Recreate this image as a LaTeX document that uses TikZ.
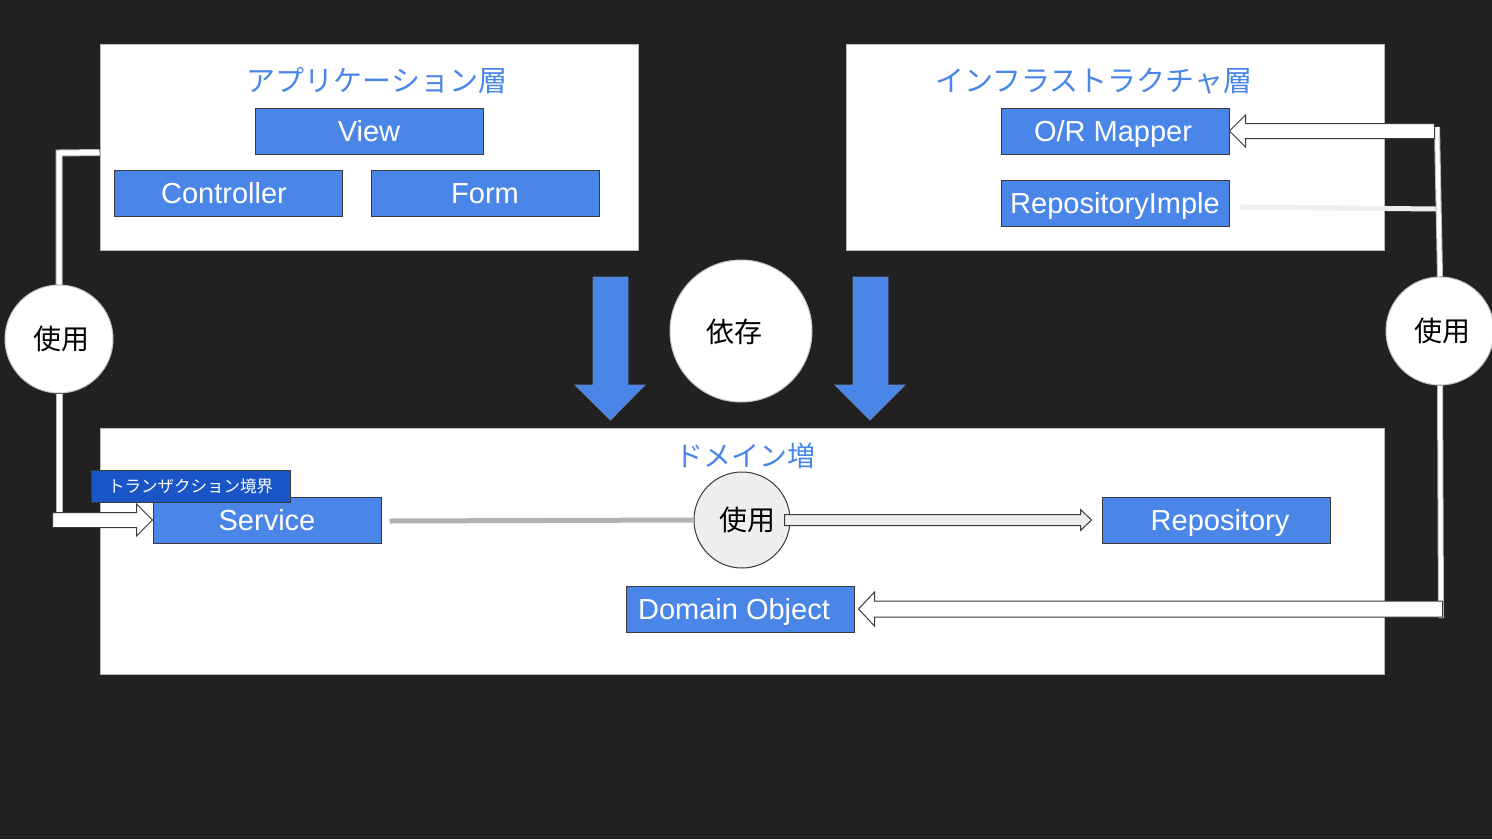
\documentclass[tikz,border=0pt]{standalone}
\usepackage{fontspec}
\setmainfont{Liberation Sans}
\newfontfamily\jp{Noto Sans CJK JP}
\usetikzlibrary{calc}
\definecolor{bg}{HTML}{212121}
\definecolor{mblue}{HTML}{4A86E8}
\definecolor{tblue}{HTML}{1A55C8}
\definecolor{edge}{HTML}{3A3A3A}
\definecolor{lgray}{HTML}{EEEEEE}
\begin{document}
\begin{tikzpicture}[x=1pt,y=-1pt,
  layer/.style={draw=gray!55, fill=white, line width=1pt, inner sep=0pt},
  bbox/.style={draw=edge, fill=mblue, line width=1pt, minimum width=228pt, minimum height=46pt, inner sep=0pt, text=white, text height=20.5pt, text depth=0pt, font=\fontsize{29}{30}\selectfont},
  ltitle/.style={text=mblue, inner sep=0pt, font=\jp\fontsize{29}{32}\selectfont},
  ucirc/.style={circle, fill=white, draw=gray!45, line width=1pt, inner sep=0pt, text=black, font=\jp\fontsize{28}{30}\selectfont},
  ctext/.style={inner sep=0pt, text=black, font=\jp\fontsize{28}{30}\selectfont},
  hollow/.style={fill=white, draw=edge, line width=1pt},
  wedge/.style={gray!55, line width=7pt},
  wline/.style={white, line width=5pt},
  darrow/.style={fill=mblue, draw=gray!40!mblue, line width=0.8pt}
]
\fill[bg] (0,0) rectangle (1492,839);
\useasboundingbox (0,0) rectangle (1492,839);

% layers
\node[layer, minimum width=538pt, minimum height=206pt] (app) at (369,147) {};
\node[layer, minimum width=538pt, minimum height=206pt] (infra) at (1115,147) {};
\node[layer, minimum width=1284pt, minimum height=246pt] (dom) at (742,551) {};

\node[ltitle] (appT) at (377,81) {アプリケーション層};
\node[ltitle] (infT) at (1094,81) {インフラストラクチャ層};
\node[ltitle, font=\jp\fontsize{28}{30}\selectfont] (domT) at (745,456) {ドメイン増};

% circles
\node[ucirc, minimum size=108pt] (useL) at (59,339) {};
\node[ctext] (useLt) at (61,339) {使用};
\node[ucirc, minimum size=142pt] (dep) at (741,331) {};
\node[ctext] (dept) at (734,332) {依存};
\node[ucirc, minimum size=108pt] (useR) at (1440,331) {};
\node[ctext] (useRt) at (1442,331) {使用};

% blue boxes
\node[bbox] (view) at (369,131) {View};
\node[bbox] (ctrl) at (228,193) {\makebox[220pt]{\hspace{-8pt}\hfill Controller\hfill}};
\node[bbox] (form) at (485,193) {Form};
\node[bbox] (orm) at (1115,131) {\makebox[220pt]{\hspace{-4pt}\hfill O/R Mapper\hfill}};
\node[bbox] (repimpl) at (1115,203) {RepositoryImple};
\node[bbox] (svc) at (267,520) {Service};
\node[bbox] (repo) at (1216,520) {\makebox[220pt]{\hfill Repository\hfill\hspace{-8pt}}};
\node[bbox] (dobj) at (740,609) {\makebox[220pt]{\hspace{-12pt}\hfill Domain Object\hfill}};

% left connector
\coordinate (lA) at ($(app.north west)+(0,109)$);
\coordinate (lB) at (59,153);
\coordinate (lC) at (59,514);
\draw[wedge] (lA) -- (lB) -- (useL.north);
\draw[wedge] (useL.south) -- (lC);
\draw[wline] (lA) -- (lB) -- (useL.north);
\draw[wline] (useL.south) -- (lC);
\draw[hollow] ($(svc.west)+(-100,-7.5)$) -- ($(svc.west)+(-16,-7.5)$) -- ($(svc.west)+(-16,-16)$) -- (svc.west) -- ($(svc.west)+(-16,16)$) -- ($(svc.west)+(-16,7.5)$) -- ($(svc.west)+(-100,7.5)$) -- cycle;

% transaction label
\node[draw=edge, fill=tblue, line width=1pt, minimum width=199pt, minimum height=32pt, inner sep=0pt, text=white, font=\jp\fontsize{16.5}{18}\selectfont] (tx) at (190.5,486) {トランザクション境界};

% right connector
\coordinate (rTop) at (1437,127);
\coordinate (rMid) at (1436,209);
\coordinate (rBot) at (1441,618);
\draw[line width=5pt, color=lgray] ($(repimpl.east)+(11,4)$) -- (rMid);
\draw[wedge, line width=6pt] (rTop) -- (useR.north);
\draw[wedge, line width=6pt] (useR.south) -- (rBot);
\draw[wline, line width=4pt] (rTop) -- (useR.north);
\draw[wline, line width=4pt] (useR.south) -- (rBot);
\draw[hollow] ($(orm.east)+(205,-7.5)$) -- ($(orm.east)+(16,-7.5)$) -- ($(orm.east)+(16,-16)$) -- (orm.east) -- ($(orm.east)+(16,16)$) -- ($(orm.east)+(16,7.5)$) -- ($(orm.east)+(205,7.5)$) -- cycle;
\draw[hollow] ($(dobj.east)+(588,-8)$) -- ($(dobj.east)+(20,-8)$) -- ($(dobj.east)+(20,-17)$) -- ($(dobj.east)+(4,0)$) -- ($(dobj.east)+(20,17)$) -- ($(dobj.east)+(20,8)$) -- ($(dobj.east)+(588,8)$) -- cycle;

% domain internal
\node[ucirc, minimum size=96pt, fill=lgray, draw=edge] (useC) at (742,520) {};
\node[ctext] (useCt) at (747,520) {使用};
\draw[line width=5pt, gray!60] ($(svc.east)+(8,1)$) -- (useC.west);
\draw[hollow, fill=lgray] ($(useC.east)+(-6,-5.5)$) -- ($(repo.west)+(-21,-5.5)$) -- ($(repo.west)+(-21,-10.5)$) -- ($(repo.west)+(-10,0)$) -- ($(repo.west)+(-21,10.5)$) -- ($(repo.west)+(-21,5.5)$) -- ($(useC.east)+(-6,5.5)$) -- cycle;

% dependency arrows
\draw[darrow] (593,277) -- (628,277) -- (628,385) -- (645,385) -- (610.5,420) -- (575,385) -- (593,385) -- cycle;
\draw[darrow] (853,277) -- (888,277) -- (888,385) -- (905,385) -- (870,420) -- (835,385) -- (853,385) -- cycle;
\end{tikzpicture}
\end{document}
